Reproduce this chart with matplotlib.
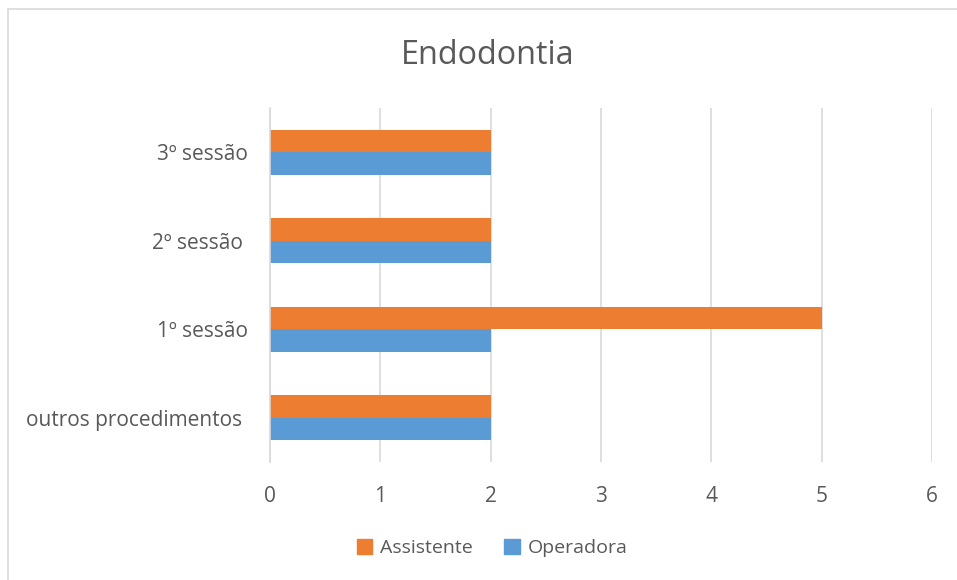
import matplotlib
matplotlib.use("Agg")
import matplotlib.pyplot as plt
from matplotlib.patches import Rectangle, Patch

categories = ["outros procedimentos ", "1º sessão", "2º sessão ", "3º sessão"]
operadora = [2, 2, 2, 2]
assistente = [2, 5, 2, 2]
x_ticks = [0, 1, 2, 3, 4, 5, 6]

plt.rcParams['font.family'] = ['Open Sans', 'DejaVu Sans']
txt = '#595959'
grid = '#D9D9D9'
orange = '#ED7D31'
blue = '#5B9BD5'

fig = plt.figure(figsize=(9.57, 5.80), dpi=100)
# chart border (cropped on the right and bottom in the reference)
fig.patches.append(Rectangle((8 / 957, -0.1), 1.2, 1 - 9 / 580 + 0.1,
                             transform=fig.transFigure, fill=False,
                             edgecolor=grid, linewidth=1.2))

W, H = 957, 580
ax = fig.add_axes([270 / W, 1 - 462 / H, (932 - 270) / W, (462 - 108) / H])

y = range(len(categories))
h = 0.256
ax.barh([i - h / 2 for i in y], operadora, height=h, color=blue, label='Operadora', zorder=3)
ax.barh([i + h / 2 for i in y], assistente, height=h, color=orange, label='Assistente', zorder=3)

ax.set_xlim(0, 6)
ax.set_ylim(-0.5, len(categories) - 0.5)
ax.set_xticks(x_ticks)
ax.set_xticklabels([str(v) for v in x_ticks])
ax.set_yticks(list(y))
ax.set_yticklabels(categories)
ax.tick_params(axis='both', length=0, labelsize=15, labelcolor=txt)
ax.tick_params(axis='y', pad=16)
ax.tick_params(axis='x', pad=17.5)
ax.grid(axis='x', color=grid, linewidth=1.2, zorder=0)
for s in ['top', 'right', 'bottom']:
    ax.spines[s].set_visible(False)
ax.spines['left'].set_color(grid)
ax.spines['left'].set_linewidth(1.2)
ax.spines['left'].set_zorder(4)

fig.text(488 / W, 1 - 55 / H, 'Endodontia', ha='center', va='center',
         fontsize=23.3, color=txt)

handles = [Patch(color=orange, label='Assistente'), Patch(color=blue, label='Operadora')]
fig.legend(handles=handles, loc='center', bbox_to_anchor=(492 / W, 1 - 548 / H),
           ncol=2, frameon=False, fontsize=14, labelcolor=txt,
           handlelength=0.8, handleheight=0.8, handletextpad=0.4, columnspacing=1.6)

fig.savefig('out.png', dpi=100)
